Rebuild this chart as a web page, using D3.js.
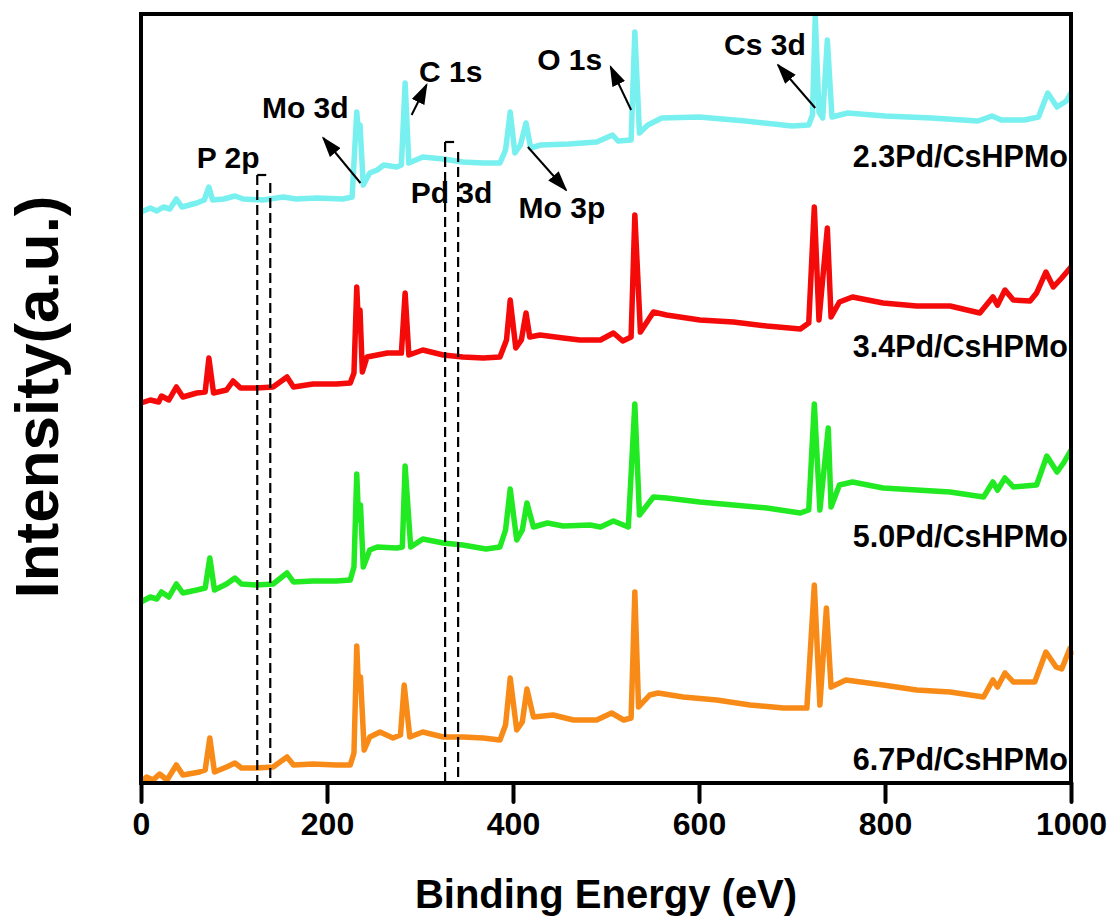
<!DOCTYPE html>
<html>
<head>
<meta charset="utf-8">
<script src="https://cdn.jsdelivr.net/npm/d3@7"></script>
<style>
  body { margin: 0; background: #fff; }
  text { font-family: "Liberation Sans", Arial, sans-serif; font-weight: bold; fill: #000; }
</style>
</head>
<body>
<div class="svg-container"></div>
<script>
// binding energy (eV) and intensity (a.u.)
const SERIES_NAMES = ["2.3Pd/CsHPMo", "3.4Pd/CsHPMo", "5.0Pd/CsHPMo", "6.7Pd/CsHPMo"];
const X_TICKS = [0, 200, 400, 600, 800, 1000];

const PD23 = [
    [0, 571], [10, 575], [17, 572], [24, 576], [31, 574], [38, 584], [44, 576], [60, 580], [68, 583],
    [73, 596], [77, 583], [89, 584], [101, 587], [110, 584], [131, 583], [153, 586], [167, 584],
    [189, 585], [217, 584], [227, 586], [232, 671], [234, 648], [235.5, 658], [239, 598], [246, 610],
    [254, 613], [261, 618], [275, 616], [280, 618], [284, 700], [288, 620], [303, 626], [325, 624],
    [346, 621], [368, 620], [386, 620], [392, 633], [397, 671], [402, 630], [408, 638], [414, 660],
    [419, 635], [430, 638], [460, 639], [490, 641], [507, 648], [513, 642], [527, 643], [531, 751],
    [536, 650], [545, 658], [560, 665], [600, 666], [650, 662], [700, 657], [718, 658], [722, 668],
    [725, 766], [729, 671], [733, 665], [738, 743], [743, 666], [760, 670], [800, 667], [850, 665],
    [900, 662], [915, 667], [925, 663], [950, 663], [965, 666], [975, 690], [985, 676], [995, 682],
    [1000, 690]
];

const PD34 = [
    [0, 380], [10, 383], [19, 381], [22, 387], [30, 383], [38, 396], [45, 386], [60, 390], [69, 391],
    [73, 425], [78, 390], [92, 393], [99, 402], [107, 395], [124, 395], [142, 396], [157, 406],
    [164, 396], [185, 399], [210, 399], [225, 400], [229, 410], [232, 496], [234, 453], [235.5, 473],
    [238, 411], [243, 426], [254, 428], [265, 430], [280, 430], [284, 490], [288, 428], [303, 433],
    [325, 428], [346, 426], [368, 425], [386, 426], [393, 443], [397, 483], [403, 435], [409, 443],
    [414, 470], [418, 446], [429, 448], [454, 445], [472, 443], [494, 443], [508, 450], [518, 442],
    [527, 446], [531, 568], [537, 451], [551, 471], [565, 468], [601, 463], [637, 461], [673, 457],
    [709, 454], [718, 460], [724, 576], [729, 463], [738, 555], [742, 466], [751, 481], [765, 486],
    [798, 480], [834, 477], [870, 477], [902, 470], [916, 486], [921, 478], [929, 493], [938, 483],
    [956, 482], [963, 490], [973, 511], [981, 496], [990, 505], [1000, 516]
];

const PD50 = [
    [0, 181], [10, 186], [17, 184], [22, 191], [30, 186], [38, 199], [45, 190], [60, 193], [69, 195],
    [74, 225], [79, 193], [92, 199], [101, 205], [108, 199], [124, 198], [142, 199], [157, 210],
    [164, 201], [185, 202], [210, 202], [225, 203], [229, 216], [232, 309], [234, 263], [236, 278],
    [239, 216], [246, 233], [254, 236], [275, 235], [281, 236], [284, 317], [290, 236], [303, 244],
    [325, 240], [346, 238], [371, 234], [386, 236], [392, 253], [397, 294], [404, 243], [410, 253],
    [415, 280], [422, 256], [437, 260], [454, 257], [483, 258], [494, 256], [508, 262], [524, 256],
    [531, 379], [536, 268], [551, 286], [565, 285], [601, 281], [637, 278], [673, 275], [709, 270],
    [718, 273], [724, 379], [730, 273], [739, 355], [742, 276], [751, 298], [765, 301], [798, 295],
    [834, 293], [870, 291], [906, 286], [916, 301], [921, 293], [929, 305], [938, 296], [963, 298],
    [974, 327], [985, 311], [992, 320], [1000, 333]
];

const PD67 = [
    [0, 1], [6, 6], [13, 3], [20, 9], [28, 3], [38, 18], [45, 8], [63, 11], [69, 13], [74, 45],
    [79, 11], [92, 16], [101, 20], [108, 15], [124, 15], [142, 16], [157, 26], [164, 18], [185, 19],
    [210, 18], [225, 18], [229, 30], [232, 137], [234, 93], [236, 106], [240, 33], [246, 46],
    [257, 51], [271, 45], [279, 48], [283, 98], [289, 46], [303, 51], [325, 46], [346, 46], [368, 45],
    [386, 43], [392, 58], [397, 105], [404, 53], [410, 61], [415, 94], [422, 66], [443, 68], [465, 63],
    [490, 63], [506, 70], [519, 63], [527, 65], [531, 191], [535, 76], [547, 88], [556, 90], [583, 86],
    [619, 83], [655, 78], [691, 75], [716, 75], [724, 198], [730, 78], [737, 175], [742, 96],
    [758, 103], [798, 98], [834, 93], [870, 91], [906, 86], [916, 103], [921, 96], [929, 110],
    [938, 101], [961, 101], [973, 131], [984, 116], [990, 114], [999, 135], [1000, 128]
];

const SERIES = [PD23, PD34, PD50, PD67];
const COLORS = ["#78f0f0", "#f50a0a", "#22ea22", "#f88b17"];

// peak assignments and the dashed windows (eV)
const PEAK_NAMES = ["P 2p", "Mo 3d", "C 1s", "Pd 3d", "Mo 3p", "O 1s", "Cs 3d"];
const P2P_WINDOW = [125, 139];
const PD3D_WINDOW = [327, 341];

const width = 1112;
const height = 917;
const margin = { left: 141, right: 41, top: 14, bottom: 134 };

const svg = d3.select(".svg-container").append("svg")
    .attr("width", width)
    .attr("height", height);

const xScale = d3.scaleLinear().domain([0, 1000]).range([margin.left, width - margin.right]);
const yScale = d3.scaleLinear().domain([0, 770]).range([height - margin.bottom, margin.top - 1]);

const yBottom = height - margin.bottom;

// spectra
const line = d3.line()
    .x(d => xScale(d[0]))
    .y(d => yScale(d[1]));

svg.append("g")
    .selectAll("path")
    .data(SERIES)
    .enter()
    .append("path")
    .attr("d", line)
    .attr("fill", "none")
    .attr("stroke", (d, i) => COLORS[i])
    .attr("stroke-width", 5.5)
    .attr("stroke-linejoin", "round");

// dashed brackets for P 2p and Pd 3d
function bracket(win, topLeft, topRight) {
    const g = svg.append("g")
        .attr("stroke", "#000")
        .attr("stroke-width", 2.2)
        .attr("fill", "none");
    g.append("line")
        .attr("x1", xScale(win[0])).attr("x2", xScale(win[0]))
        .attr("y1", yScale(topLeft)).attr("y2", yBottom)
        .attr("stroke-dasharray", "10,5");
    g.append("line")
        .attr("x1", xScale(win[0])).attr("x2", xScale(win[0]) + 9)
        .attr("y1", yScale(topLeft)).attr("y2", yScale(topLeft));
    g.append("line")
        .attr("x1", xScale(win[1])).attr("x2", xScale(win[1]))
        .attr("y1", yScale(topRight)).attr("y2", yBottom)
        .attr("stroke-dasharray", "10,5");
}
bracket(P2P_WINDOW, 608, 600);
bracket(PD3D_WINDOW, 641, 631);

// arrows
svg.append("defs").append("marker")
    .attr("id", "head")
    .attr("viewBox", "0 0 10 10")
    .attr("refX", 9).attr("refY", 5)
    .attr("markerWidth", 21).attr("markerHeight", 14)
    .attr("markerUnits", "userSpaceOnUse")
    .attr("orient", "auto")
    .attr("preserveAspectRatio", "none")
    .append("path")
    .attr("d", "M0,0 L10,5 L0,10 Z")
    .attr("fill", "#000");

// [from eV, from I, to eV, to I]
const arrows = [
    [236, 600, 196, 645],
    [291, 668, 307, 698],
    [416, 636, 457, 593],
    [527, 673, 505, 716],
    [725, 675, 685, 718]
];
svg.append("g")
    .selectAll("line")
    .data(arrows)
    .enter()
    .append("line")
    .attr("x1", d => xScale(d[0])).attr("y1", d => yScale(d[1]))
    .attr("x2", d => xScale(d[2])).attr("y2", d => yScale(d[3]))
    .attr("stroke", "#000")
    .attr("stroke-width", 2)
    .attr("marker-end", "url(#head)");

// peak labels, anchored at left/baseline (eV, I)
const labelAt = [[60, 615], [130, 665], [299, 701], [290, 580], [406, 565], [426, 713], [627, 728]];
svg.append("g")
    .selectAll("text")
    .data(PEAK_NAMES)
    .enter()
    .append("text")
    .attr("x", (d, i) => xScale(labelAt[i][0]))
    .attr("y", (d, i) => yScale(labelAt[i][1]))
    .attr("font-size", 30)
    .text(d => d);

// sample names on the right
const nameY = [167, 357, 547, 770];
svg.append("g")
    .selectAll("text")
    .data(SERIES_NAMES)
    .enter()
    .append("text")
    .attr("x", xScale(1000) - 3)
    .attr("y", (d, i) => nameY[i])
    .attr("text-anchor", "end")
    .attr("font-size", 30.5)
    .text(d => d);

// frame
svg.append("rect")
    .attr("x", margin.left)
    .attr("y", margin.top)
    .attr("width", width - margin.left - margin.right)
    .attr("height", yBottom - margin.top)
    .attr("fill", "none")
    .attr("stroke", "#000")
    .attr("stroke-width", 4);

// x-axis
const xAxis = svg.append("g")
    .attr("transform", "translate(0," + yBottom + ")")
    .call(d3.axisBottom(xScale).tickValues(X_TICKS).tickFormat(d3.format("d")).tickSize(19).tickPadding(10));
xAxis.select(".domain").remove();
xAxis.selectAll(".tick line")
    .attr("stroke", "#000")
    .attr("stroke-width", 4)
    .attr("stroke-linecap", "round");
xAxis.selectAll(".tick text")
    .attr("font-family", "Liberation Sans, Arial, sans-serif")
    .attr("font-weight", "bold")
    .attr("font-size", 32)
    .attr("fill", "#000");

svg.append("text")
    .attr("x", (margin.left + width - margin.right) / 2)
    .attr("y", 908)
    .attr("text-anchor", "middle")
    .attr("font-size", 40)
    .text("Binding Energy (eV)");

svg.append("text")
    .attr("transform", "translate(58,397) rotate(-90)")
    .attr("text-anchor", "middle")
    .attr("font-size", 62)
    .text("Intensity(a.u.)");
</script>
</body>
</html>
